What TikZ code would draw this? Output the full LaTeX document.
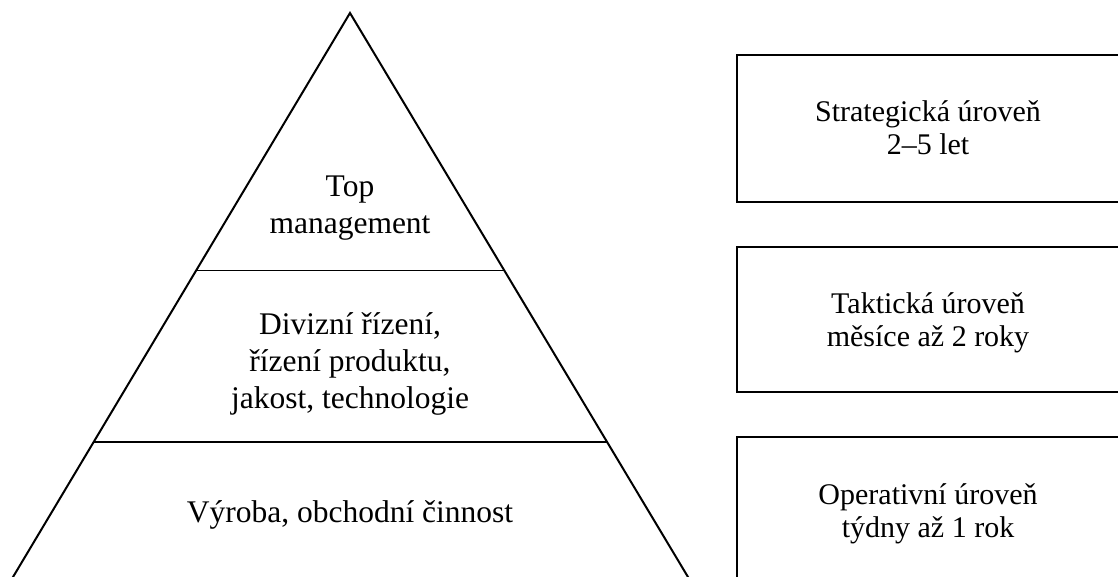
\documentclass[tikz,border=0pt]{standalone}
\usepackage{fontspec}
\setmainfont{Liberation Serif}
\usetikzlibrary{calc}
\begin{document}
\begin{tikzpicture}[x=1pt,y=-1pt,
  lbl/.style={align=center,inner sep=0pt,anchor=base,font=\fontsize{31.5}{37}\selectfont},
  rlbl/.style={align=center,inner sep=0pt,anchor=base,font=\fontsize{30}{33}\selectfont},
  edge/.style={line width=2pt},
  levelbox/.style={line width=2.4pt},
  divider/.style={line width=1.1pt}]
\useasboundingbox (0,0) rectangle (1118,577);
\clip (0,0) rectangle (1118,577);
% pyramid
\coordinate (apex) at (350,13);
\coordinate (bl) at (13,577);
\coordinate (br) at (688,577);
\draw[edge,line join=miter] ($(apex)!1.05!(bl)$) -- (apex) -- ($(apex)!1.05!(br)$);
\coordinate (d1l) at ($(apex)!257.5/564!(bl)$);
\coordinate (d1r) at ($(apex)!257.5/564!(br)$);
\coordinate (d2l) at ($(apex)!429/564!(bl)$);
\coordinate (d2r) at ($(apex)!429/564!(br)$);
\draw[divider] (d1l) -- (d1r);
\draw[divider] (d2l) -- (d2r);
% labels are placed by the baseline of their last line
\node[lbl] (top) at (350,234) {Top\\management};
\node[lbl] (mid) at (350,408) {Divizní řízení,\\řízení produktu,\\jakost, technologie};
\node[lbl] (low) at (350,522) {Výroba, obchodní činnost};
% time horizons
\draw[levelbox] (737,55) rectangle (1140,202);
\draw[levelbox] (737,247) rectangle (1140,392);
\draw[levelbox] (737,437) rectangle (1140,600);
\node[rlbl] (s) at (928,155) {Strategická úroveň\\2–5 let};
\node[rlbl] (t) at (928,346) {Taktická úroveň\\měsíce až 2 roky};
\node[rlbl] (o) at (928,537) {Operativní úroveň\\týdny až 1 rok};
\end{tikzpicture}
\end{document}
